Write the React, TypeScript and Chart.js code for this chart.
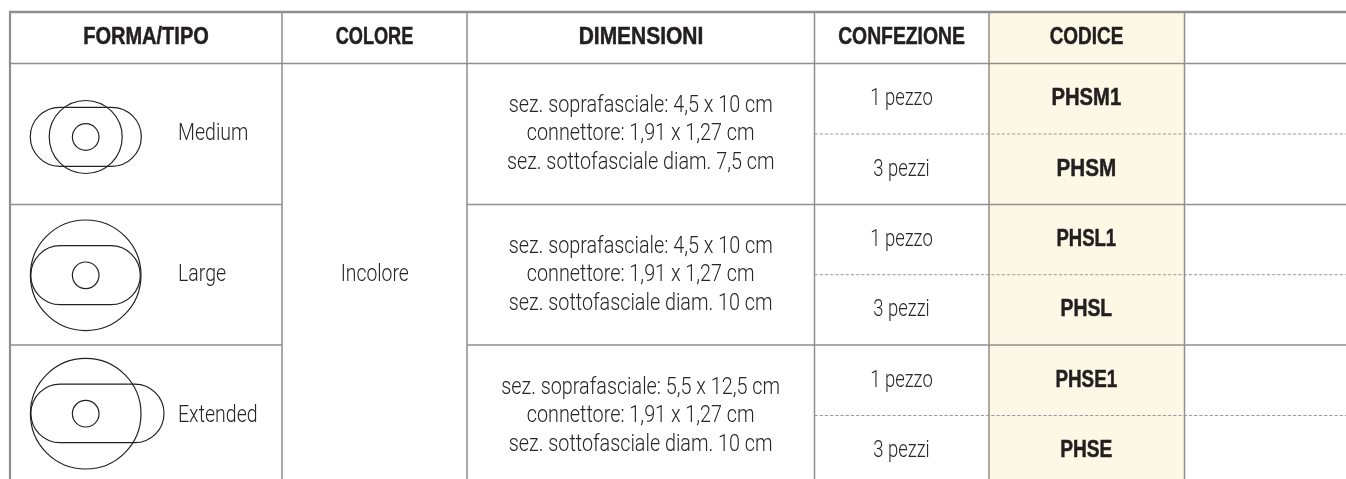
import React, { useEffect, useRef } from "react";
import { Chart, registerables } from "chart.js";

Chart.register(...registerables);

const WIDTH = 1346;
const HEIGHT = 479;

const columnEdges = [282, 467, 814.5, 989, 1184.5];
const solidRows = [63.5];
const groupRows = [204.5, 345];
const dashedRows = [134, 274.7, 415.5];
const highlightColumn = { centre: 1086.7, width: 195, top: 12, bottom: 479 };

const headers = ["FORMA/TIPO", "COLORE", "DIMENSIONI", "CONFEZIONE", "CODICE"];
const headerCentres = [146, 374.5, 641, 901.5, 1086.5];
const headerWidths = [126, 78, 125, 127, 74];
const headerBaseline = 44;

const typeNames = ["Medium", "Large", "Extended"];
const typeBaselines = [140, 280.7, 421.7];
const typeLeft = 178;

const colourLabel = "Incolore";
const colourPos = { x: 374.7, y: 280.7 };

const dimensionLines = [
  ["sez. soprafasciale: 4,5 x 10 cm", "connettore: 1,91 x 1,27 cm", "sez. sottofasciale diam. 7,5 cm"],
  ["sez. soprafasciale: 4,5 x 10 cm", "connettore: 1,91 x 1,27 cm", "sez. sottofasciale diam. 10 cm"],
  ["sez. soprafasciale: 5,5 x 12,5 cm", "connettore: 1,91 x 1,27 cm", "sez. sottofasciale diam. 10 cm"],
];
const dimensionBaselines = [
  [112, 140.3, 169],
  [253, 281.3, 310],
  [394, 422.3, 451],
];
const dimensionCentre = 640.7;

const packLabels = ["1 pezzo", "3 pezzi", "1 pezzo", "3 pezzi", "1 pezzo", "3 pezzi"];
const codes = ["PHSM1", "PHSM", "PHSL1", "PHSL", "PHSE1", "PHSE"];
const codeWidths = [70, 60, 60, 52, 62, 52.5];
const packBaselines = [105.3, 175.7, 246, 316, 387, 457.3];
const packCentre = 901.5;
const codeCentre = 1086.3;

// x, y, radius
const circles = [
  { x: 85.7, y: 137, r: 13.3 },
  { x: 85.7, y: 137, r: 36.5 },
  { x: 85.7, y: 275.3, r: 13.3 },
  { x: 85.7, y: 275.3, r: 55.3 },
  { x: 85.7, y: 413.7, r: 13.3 },
  { x: 85.7, y: 413.7, r: 55.3 },
];
// left cap centre, right cap centre, y, radius
const stadiums = [
  { x1: 59.8, x2: 111.8, y: 136.8, r: 29.5 },
  { x1: 60.3, x2: 110.8, y: 275.2, r: 29.5 },
  { x1: 60.2, x2: 134.7, y: 413.4, r: 29.3 },
];

const RULE = "#8f8f8f";
const INK = "#231f20";
const SOFT = "#262626";

function rule(pts: { x: number; y: number }[], width: number, dash: number[] = []) {
  return {
    type: "line",
    data: pts,
    showLine: true,
    borderColor: dash.length ? "#9a9a9a" : RULE,
    borderWidth: width,
    borderDash: dash,
    pointRadius: 0,
    tension: 0,
    order: 2,
    parsing: false,
  };
}

const tablePlugin = {
  id: "tableText",
  afterDatasetsDraw(chart: any) {
    const { ctx, scales } = chart;
    const X = (v: number) => scales.x.getPixelForValue(v);
    const Y = (v: number) => scales.y.getPixelForValue(v);
    ctx.save();
    ctx.strokeStyle = "#222";
    ctx.lineWidth = 1.2;
    for (const s of stadiums) {
      ctx.beginPath();
      ctx.arc(X(s.x1), Y(s.y), s.r, Math.PI / 2, (3 * Math.PI) / 2);
      ctx.arc(X(s.x2), Y(s.y), s.r, -Math.PI / 2, Math.PI / 2);
      ctx.closePath();
      ctx.stroke();
    }
    ctx.textBaseline = "alphabetic";
    const put = (
      t: string,
      x: number,
      y: number,
      font: string,
      stretch: number,
      color: string,
      align: "left" | "center",
      heavy = 0
    ) => {
      ctx.save();
      ctx.font = font;
      ctx.fillStyle = color;
      ctx.strokeStyle = color;
      ctx.textAlign = align;
      ctx.translate(X(x), Y(y));
      ctx.scale(stretch, 1);
      ctx.fillText(t, 0, 0);
      if (heavy) {
        ctx.lineWidth = heavy;
        ctx.strokeText(t, 0, 0);
      }
      ctx.restore();
    };
    const bold = `bold 23.5px "Liberation Sans", sans-serif`;
    const fit = (t: string, w: number) => {
      ctx.font = bold;
      return w / (ctx.measureText(t).width + 0.4);
    };
    const reg = `300 23px Roboto, "Liberation Sans", sans-serif`;
    headers.forEach((h, i) =>
      put(h, headerCentres[i], headerBaseline, bold, fit(h, headerWidths[i]), INK, "center", 0.5)
    );
    typeNames.forEach((t, i) => put(t, typeLeft, typeBaselines[i], reg, 0.85, SOFT, "left"));
    put(colourLabel, colourPos.x, colourPos.y, reg, 0.84, SOFT, "center");
    dimensionLines.forEach((lines, g) =>
      lines.forEach((l, i) => put(l, dimensionCentre, dimensionBaselines[g][i], reg, 0.86, SOFT, "center"))
    );
    packLabels.forEach((t, i) => put(t, packCentre, packBaselines[i], reg, 0.8, SOFT, "center"));
    codes.forEach((t, i) =>
      put(t, codeCentre, packBaselines[i], bold, fit(t, codeWidths[i]), INK, "center", 0.5)
    );
    ctx.restore();
  },
};

export default function App() {
  const ref = useRef<HTMLCanvasElement>(null);
  useEffect(() => {
    document.body.style.margin = "0";
    const datasets: any[] = [
      {
        type: "bar",
        data: [{ x: highlightColumn.centre, y: [highlightColumn.top, highlightColumn.bottom] }],
        backgroundColor: "#fdf7e5",
        barThickness: highlightColumn.width,
        order: 10,
      },
      rule([{ x: 9, y: 12 }, { x: WIDTH, y: 12 }], 2.5),
      rule([{ x: 10, y: 11 }, { x: 10, y: HEIGHT }], 2.2),
      ...columnEdges.map((x) => rule([{ x, y: 12 }, { x, y: HEIGHT }], 1.5)),
      ...solidRows.map((y) => rule([{ x: 10, y }, { x: WIDTH, y }], 1.6)),
      ...groupRows.flatMap((y) => [
        rule([{ x: 10, y }, { x: columnEdges[0], y }], 1.4),
        rule([{ x: columnEdges[1], y }, { x: WIDTH, y }], 1.4),
      ]),
      ...dashedRows.map((y) => rule([{ x: columnEdges[2], y }, { x: WIDTH, y }], 1, [3.2, 2])),
      {
        type: "line",
        showLine: false,
        data: circles.map((c) => ({ x: c.x, y: c.y })),
        pointRadius: circles.map((c) => c.r),
        pointBackgroundColor: "transparent",
        pointBorderColor: "#222",
        pointBorderWidth: 1.2,
        order: 1,
        parsing: false,
      },
    ];
    const chart = new Chart(ref.current!, {
      type: "bar",
      data: { datasets },
      options: {
        animation: false,
        responsive: false,
        devicePixelRatio: 1,
        layout: { padding: 0, autoPadding: false },
        plugins: { legend: { display: false }, tooltip: { enabled: false } },
        scales: {
          x: { type: "linear", min: 0, max: WIDTH, display: false, offset: false },
          y: { type: "linear", min: 0, max: HEIGHT, reverse: true, display: false },
        },
      },
      plugins: [tablePlugin],
    } as any);
    return () => chart.destroy();
  }, []);
  return (
    <div style={{ position: "absolute", left: 0, top: 0, width: WIDTH, height: HEIGHT, background: "#fff" }}>
      <canvas ref={ref} width={WIDTH} height={HEIGHT} style={{ display: "block" }} />
    </div>
  );
}
